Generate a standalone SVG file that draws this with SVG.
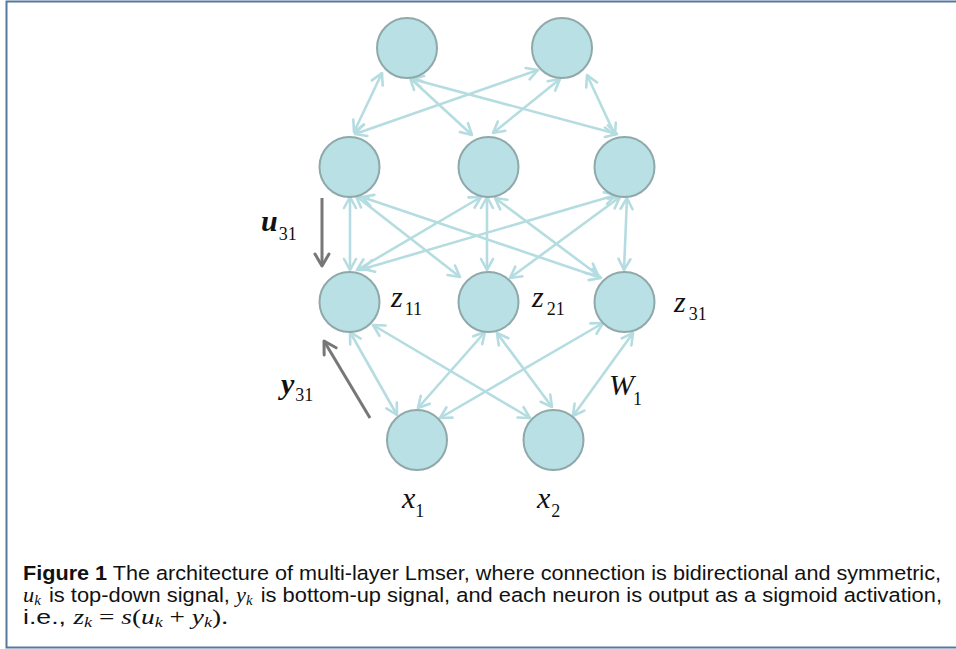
<svg xmlns="http://www.w3.org/2000/svg" width="956" height="649" viewBox="0 0 956 649">
<defs>
<marker id="ah" markerUnits="userSpaceOnUse" markerWidth="16" markerHeight="16" viewBox="-13 -8 16 16" refX="0" refY="0" orient="auto-start-reverse">
<path d="M-11,-6 L0,0 L-11,6" fill="none" stroke="#b5dde1" stroke-width="2.6" stroke-linecap="round" stroke-linejoin="round"/>
</marker>
<marker id="gh" markerUnits="userSpaceOnUse" markerWidth="18" markerHeight="18" viewBox="-14 -9 18 18" refX="0" refY="0" orient="auto">
<path d="M-12,-7 L0,0 L-12,7" fill="none" stroke="#777777" stroke-width="3" stroke-linecap="round" stroke-linejoin="round"/>
</marker>
</defs>
<style>
.n{fill:#b9e0e4;stroke:#8fa8aa;stroke-width:2}
.c{stroke:#b5dde1;stroke-width:2.6;fill:none;marker-start:url(#ah);marker-end:url(#ah)}
.g{stroke:#777777;stroke-width:3;fill:none;marker-end:url(#gh)}
.lab{font-family:"Liberation Serif","DejaVu Serif",serif;fill:#111}
.m{font-style:italic;font-size:30px}
.s{font-size:18px}
.cap{font-family:"Liberation Sans",Arial,sans-serif;font-size:20.5px;fill:#111}
.cm{font-family:"Liberation Serif","DejaVu Serif",serif;font-style:italic;font-size:21px}
.k{font-family:"Liberation Serif","DejaVu Serif",serif;font-style:italic;font-size:14px}
.r{font-family:"Liberation Serif","DejaVu Serif",serif;font-size:21px}
</style>
<rect x="6.5" y="1.5" width="960" height="646" fill="#ffffff" stroke="#5677a0" stroke-width="2"/>
<g id="connectors">
<line class="c" x1="382" y1="73" x2="354" y2="132"/>
<line class="c" x1="410" y1="78" x2="472" y2="135"/>
<line class="c" x1="412" y1="79" x2="617" y2="134"/>
<line class="c" x1="538" y1="70" x2="355" y2="134"/>
<line class="c" x1="560" y1="79" x2="493" y2="133"/>
<line class="c" x1="587" y1="75" x2="615" y2="135"/>
<line class="c" x1="350" y1="197" x2="350" y2="270"/>
<line class="c" x1="356" y1="196" x2="460" y2="277"/>
<line class="c" x1="362" y1="197" x2="601" y2="278"/>
<line class="c" x1="481" y1="197" x2="357" y2="270"/>
<line class="c" x1="487" y1="197" x2="487" y2="270"/>
<line class="c" x1="495" y1="198" x2="598" y2="275"/>
<line class="c" x1="616" y1="195" x2="363" y2="269"/>
<line class="c" x1="620" y1="197" x2="510" y2="278"/>
<line class="c" x1="627" y1="198" x2="624" y2="270"/>
<line class="c" x1="350" y1="332" x2="397" y2="415"/>
<line class="c" x1="373" y1="325" x2="530" y2="418"/>
<line class="c" x1="485" y1="332" x2="418" y2="408"/>
<line class="c" x1="497" y1="333" x2="552" y2="407"/>
<line class="c" x1="603" y1="323" x2="440" y2="418"/>
<line class="c" x1="633" y1="333" x2="573" y2="416"/>
<line class="g" x1="322" y1="198" x2="322" y2="266"/>
<line class="g" x1="370" y1="418" x2="324" y2="341"/>
</g>
<g id="t1"><circle class="n" cx="407" cy="48" r="30"/></g>
<g id="t2"><circle class="n" cx="562" cy="48" r="30"/></g>
<g id="a1"><circle class="n" cx="349.5" cy="167" r="30"/></g>
<g id="a2"><circle class="n" cx="488.5" cy="167" r="30"/></g>
<g id="a3"><circle class="n" cx="624.5" cy="167" r="30"/></g>
<g id="b1"><circle class="n" cx="349.5" cy="302" r="30"/></g>
<g id="b2"><circle class="n" cx="488.5" cy="302" r="30"/></g>
<g id="b3"><circle class="n" cx="624.5" cy="302" r="30"/></g>
<g id="x1n"><circle class="n" cx="417" cy="440" r="30"/></g>
<g id="x2n"><circle class="n" cx="553.5" cy="440" r="30"/></g>
<g id="labels">
<text class="lab" x="261" y="231"><tspan class="m" font-size="34" font-weight="bold">u</tspan><tspan class="s" dx="1" dy="9">31</tspan></text>
<text class="lab" x="281" y="394"><tspan class="m" font-size="34" font-weight="bold">y</tspan><tspan class="s" dx="1" dy="7">31</tspan></text>
<text class="lab" x="391" y="307"><tspan class="m">z</tspan><tspan class="s" dx="2" dy="8">11</tspan></text>
<text class="lab" x="532" y="307"><tspan class="m">z</tspan><tspan class="s" dx="3" dy="8">21</tspan></text>
<text class="lab" x="674" y="312"><tspan class="m">z</tspan><tspan class="s" dx="3" dy="8">31</tspan></text>
<text class="lab" x="609" y="395"><tspan class="m">W</tspan><tspan class="s" dx="-1" dy="10">1</tspan></text>
<text class="lab" x="402" y="508"><tspan class="m">x</tspan><tspan class="s" dx="0" dy="9">1</tspan></text>
<text class="lab" x="537" y="508"><tspan class="m">x</tspan><tspan class="s" dx="1" dy="9">2</tspan></text>
</g>
<g id="caption">
<text class="cap" x="23" y="580" textLength="918" lengthAdjust="spacingAndGlyphs"><tspan font-weight="bold">Figure 1</tspan>  The architecture of multi-layer Lmser, where connection is bidirectional and symmetric,</text>
<text class="cap" x="23" y="602" textLength="919" lengthAdjust="spacingAndGlyphs"><tspan class="cm">u</tspan><tspan class="k" dy="3">k</tspan><tspan dx="2" dy="-3"> is top-down signal, </tspan><tspan class="cm">y</tspan><tspan class="k" dy="3">k</tspan><tspan dx="2" dy="-3"> is bottom-up signal, and each neuron is output as a sigmoid activation,</tspan></text>
<text class="cap" x="23" y="624" textLength="205" lengthAdjust="spacingAndGlyphs">i.e., <tspan class="cm">z</tspan><tspan class="k" dy="3">k</tspan><tspan class="r" dy="-3"> = </tspan><tspan class="cm">s</tspan><tspan class="r">(</tspan><tspan class="cm">u</tspan><tspan class="k" dy="3">k</tspan><tspan class="r" dy="-3"> + </tspan><tspan class="cm">y</tspan><tspan class="k" dy="3">k</tspan><tspan class="r" dy="-3">).</tspan></text>
</g>
</svg>
